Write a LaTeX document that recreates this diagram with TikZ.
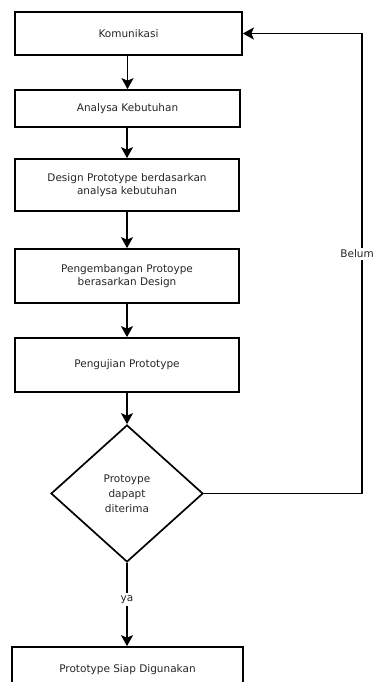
\documentclass[tikz,border=0pt]{standalone}
\usepackage{fontspec}
\setmainfont{DejaVu Sans}
\usetikzlibrary{arrows.meta,shapes.geometric}
\begin{document}
\begin{tikzpicture}[x=1pt,y=-1pt,
  stepbox/.style={draw, line width=1.7pt, inner sep=0pt, align=center,
    text=black!85, font=\fontsize{10.5}{13}\selectfont},
  decision/.style={diamond, draw, line width=1.7pt, inner sep=0pt, align=center,
    minimum width=152pt, minimum height=137pt,
    text=black!85, font=\fontsize{10.5}{15}\selectfont},
  flow/.style={line width=1.7pt, -{Stealth[length=11pt,width=12pt,inset=2.5pt]}},
  lbl/.style={fill=white, inner sep=2pt, text=black!85, font=\fontsize{10.5}{13}\selectfont}]
\useasboundingbox (0,0) rectangle (375,682);

% process steps
\node[stepbox, minimum width=227pt, minimum height=43pt] (kom) at (128.5,33.5) {Komunikasi};
\node[stepbox, minimum width=225pt, minimum height=37pt] (ana) at (127.5,108.5) {Analysa Kebutuhan};
\node[stepbox, minimum width=224pt, minimum height=52pt] (des) at (127,185) {Design Prototype berdasarkan\\analysa kebutuhan};
\node[stepbox, minimum width=224pt, minimum height=54pt] (dev) at (127,276) {Pengembangan Protoype\\berasarkan Design};
\node[stepbox, minimum width=224pt, minimum height=54pt] (uji) at (127,365) {Pengujian Prototype};
\node[decision] (dec) at (127,493.5) {Protoype\\dapapt\\diterima};
\node[stepbox, minimum width=231pt, minimum height=45pt] (siap) at (127.5,669.5) {Prototype Siap Digunakan};

% feedback route on the right
\coordinate (rt) at (362,0);

% connectors
\draw[flow] (kom.south -| ana.north) -- (ana.north);
\draw[flow] (ana.south -| des.north) -- (des.north);
\draw[flow] (des) -- (dev);
\draw[flow] (dev) -- (uji);
\draw[flow] (uji.south) -- (dec.north);
\draw[flow] (dec.south) -- node[lbl, pos=0.44] {ya} (dec.south |- siap.north);
\draw[flow] (dec.east) -- (dec.east -| rt) -- (rt |- kom.east) -- (kom.east);
\node[lbl, anchor=east, inner xsep=1pt] (belum) at (375,254) {Belum};
\end{tikzpicture}
\end{document}
